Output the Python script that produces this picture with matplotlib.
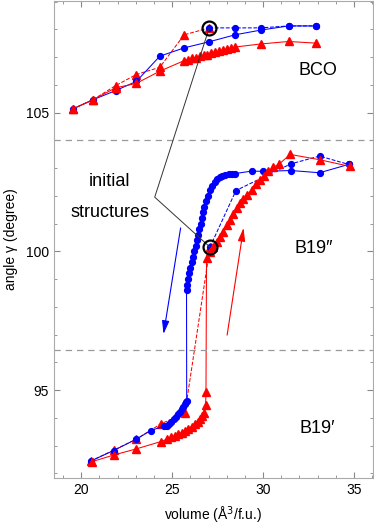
import matplotlib
matplotlib.use('Agg')
import matplotlib.pyplot as plt
from matplotlib.ticker import MultipleLocator

plt.rcParams['font.family'] = ['Liberation Sans', 'DejaVu Sans']

# --- BCO branch ---
bco_blue_x = [19.54, 20.64, 21.89, 23.03, 24.32, 25.66, 27.04, 28.46, 29.87, 31.40, 32.92]
bco_blue_y = [105.13, 105.46, 105.79, 106.12, 107.03, 107.33, 107.55, 107.80, 107.97, 108.12, 108.12]
bco_blue_dash_x = [27.04, 28.46, 29.87, 31.40, 32.92]
bco_blue_dash_y = [108.05, 108.05, 108.05, 108.12, 108.12]

bco_red_x = [19.54, 20.64, 21.89, 23.03, 24.32,
             25.66, 25.88, 26.10, 26.30, 26.52, 26.74, 26.94, 27.16, 27.38, 27.58, 27.80, 28.02, 28.22, 28.46,
             29.87, 31.40, 32.92]
bco_red_y = [105.13, 105.46, 105.89, 106.05, 106.49,
             106.87, 106.91, 106.95, 106.98, 107.02, 107.06, 107.09, 107.13, 107.17, 107.20, 107.24, 107.28, 107.31, 107.36,
             107.47, 107.56, 107.50]
bco_red_dash_x = [19.54, 20.64, 21.89, 23.03, 24.32, 25.66, 27.04]
bco_red_dash_y = [105.13, 105.46, 105.97, 106.37, 106.63, 107.80, 108.05]

# --- B19' / B19'' branch ---
b19_blue_x = [20.55, 21.78, 23.03, 23.82,
              24.55, 24.69, 24.82, 24.95, 25.08, 25.20, 25.32, 25.43, 25.53, 25.62, 25.70, 25.77, 25.80,
              25.79, 25.83, 25.88, 25.94, 26.00, 26.08, 26.15, 26.22, 26.30, 26.37, 26.44, 26.50, 26.56, 26.62,
              26.69, 26.77, 26.86, 26.96, 27.08, 27.20, 27.34, 27.48, 27.62, 27.76, 27.92, 28.10, 28.28, 28.46,
              29.38, 29.98, 31.53, 33.11, 34.71]
b19_blue_y = [92.45, 92.82, 93.23, 93.54,
              93.70, 93.72, 93.78, 93.86, 93.95, 94.04, 94.13, 94.22, 94.31, 94.40, 94.48, 94.56, 94.62,
              98.60, 98.80, 99.00, 99.20, 99.40, 99.60, 99.80, 100.00, 100.20, 100.40, 100.60, 100.80, 101.00, 101.20,
              101.40, 101.60, 101.80, 102.00, 102.20, 102.36, 102.50, 102.61, 102.68, 102.73, 102.76, 102.78, 102.79, 102.80,
              102.89, 102.88, 102.91, 102.83, 103.13]
b19_blue_dash_x = [27.08, 28.51, 31.53, 33.11, 34.71]
b19_blue_dash_y = [100.15, 102.19, 103.15, 103.43, 103.13]

b19_red_x = [20.59, 21.80, 23.03, 24.37,
             24.72, 24.96, 25.15, 25.33, 25.52, 25.70, 25.88, 26.07, 26.25, 26.40, 26.52, 26.65, 26.75,
             26.84, 26.86,
             26.89, 27.07, 27.26, 27.44, 27.63, 27.78, 28.00, 28.18, 28.36, 28.55, 28.73, 28.92, 29.10, 29.38,
             29.61, 29.83, 30.06, 30.29, 30.57, 30.90, 31.49, 33.11, 34.76]
b19_red_y = [92.42, 92.66, 92.88, 93.14,
             93.23, 93.30, 93.35, 93.41, 93.46, 93.54, 93.61, 93.68, 93.78, 93.86, 93.96, 94.06, 94.16,
             94.46, 94.94,
             99.74, 99.97, 100.15, 100.33, 100.51, 100.69, 100.94, 101.12, 101.35, 101.57, 101.74, 101.88, 102.01, 102.22,
             102.44, 102.58, 102.73, 102.89, 103.03, 103.15, 103.49, 103.30, 103.06]
b19_red_dash_x = [27.08, 25.70, 24.37, 23.03, 21.80, 20.55]
b19_red_dash_y = [100.15, 94.16, 93.78, 93.23, 92.84, 92.45]

# initial structures and phase boundaries
init_x = [27.04, 27.08]
init_y = [108.05, 100.15]
leader_x = [27.04, 24.04, 27.08]
leader_y = [108.05, 101.95, 100.15]
boundaries = [104.0, 96.45]

fig = plt.figure(figsize=(3.74, 5.28), dpi=100)
ax = fig.add_axes([0.1444, 0.0947, 0.853, 0.904])

blue_kw = dict(color='blue', marker='o', ms=4.2, lw=0.75)
red_kw = dict(color='red', marker='^', ms=5.2, lw=0.75)

ax.plot(bco_red_dash_x, bco_red_dash_y, ls='--', **red_kw)
ax.plot(bco_blue_dash_x, bco_blue_dash_y, ls='--', **blue_kw)
ax.plot(bco_blue_x, bco_blue_y, ls='-', **blue_kw)
ax.plot(bco_red_x, bco_red_y, ls='-', **red_kw)

ax.plot(b19_red_dash_x, b19_red_dash_y, ls='--', **red_kw)
ax.plot(b19_blue_dash_x, b19_blue_dash_y, ls='--', **blue_kw)
ax.plot(b19_blue_x, b19_blue_y, ls='-', **blue_kw)
ax.plot(b19_red_x, b19_red_y, ls='-', **red_kw)

for yb in boundaries:
    ax.axhline(yb, color='#999999', ls=(0, (5, 4)), lw=0.9)

ax.plot(leader_x, leader_y, color='#333333', lw=0.7)
ax.plot(init_x, init_y, ls='none', marker='o', ms=10, mfc='none', mec='black', mew=1.6)

# arrows
ax.annotate('', xy=(24.50, 96.92), xytext=(25.49, 100.94),
            arrowprops=dict(arrowstyle='-|>,head_length=0.8,head_width=0.22', color='blue', lw=0.8))
ax.annotate('', xy=(28.95, 100.94), xytext=(28.0, 96.88),
            arrowprops=dict(arrowstyle='-|>,head_length=0.8,head_width=0.22', color='red', lw=0.8))

ax.text(21.58, 102.5, 'initial', fontsize=13, ha='center', va='center')
ax.text(21.58, 101.41, 'structures', fontsize=13, ha='center', va='center')
ax.text(33.03, 106.51, 'BCO', fontsize=13, ha='center', va='center')
ax.text(32.78, 100.09, 'B19\u2033', fontsize=13, ha='center', va='center')
ax.text(32.96, 93.62, 'B19\u2032', fontsize=13, ha='center', va='center')

ax.set_xlim(18.5, 36.05)
ax.set_ylim(91.83, 109.03)
ax.xaxis.set_major_locator(MultipleLocator(5))
ax.xaxis.set_minor_locator(MultipleLocator(1))
ax.yaxis.set_major_locator(MultipleLocator(5))
ax.yaxis.set_minor_locator(MultipleLocator(1))
ax.tick_params(which='both', direction='in', top=True, right=True, color='#888888', labelsize=10)
ax.tick_params(which='major', length=4)
ax.tick_params(which='minor', length=2.5)
for s in ax.spines.values():
    s.set_color('#aaaaaa')

ax.set_xlabel('volume (Å$^3$/f.u.)', fontsize=10, labelpad=6)
ax.set_ylabel('angle γ (degree)', fontsize=10, labelpad=6)

fig.savefig('out.png', dpi=100)
